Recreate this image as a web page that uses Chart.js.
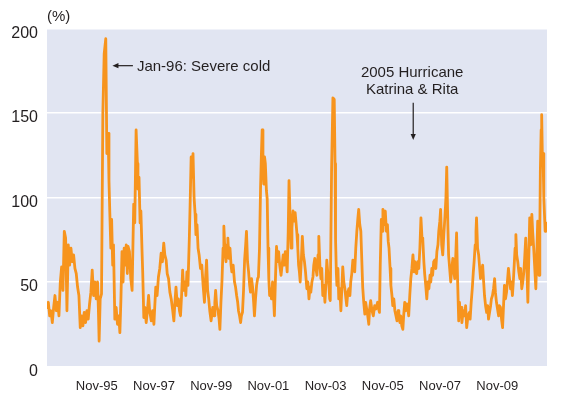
<!DOCTYPE html>
<html>
<head>
<meta charset="utf-8">
<script src="https://cdn.jsdelivr.net/npm/chart.js@4"></script>
<style>
  html, body { margin: 0; padding: 0; background: #fff; }
</style>
</head>
<body>
<canvas id="vol-chart" width="570" height="394"></canvas>
<script>
// x = months counted from Mar-94, y = volatility in %
const months = [
  0, 0.5, 1, 1.5, 2, 2.5, 3, 3.5, 4, 4.5,
  5, 5.5, 6, 6.5, 7, 7.5, 8, 8.5, 9, 9.5,
  10, 10.5, 11, 11.5, 12, 12.5, 13, 13.5, 14, 14.5,
  15, 15.5, 16, 16.5, 17, 17.5, 18, 18.5, 19, 19.3,
  19.6, 20, 20.5, 21, 21.5, 22.1, 22.5, 23, 23.3, 23.6,
  24, 24.3, 24.7, 25, 25.5, 26, 26.5, 27, 27.4, 27.8,
  28.2, 28.6, 29, 29.3, 29.8, 30.2, 30.5,

  31, 31.5, 32, 32.6, 33, 33.5, 34, 34.2, 34.6, 35,
  35.3, 35.7, 36, 36.4, 36.8, 37.3, 37.7, 38.2, 38.6, 39.2,
  39.7, 40.2, 40.5, 40.9, 41.4, 41.9, 42.4, 42.9, 43.4, 43.9,
  44.3, 44.8, 45.2, 45.7, 46.2, 46.7, 47.2, 47.7, 48.1, 48.5,
  49, 49.4, 49.8, 50.2, 50.6, 51, 51.4, 51.9, 52.2, 52.6,
  53, 53.5, 53.8, 54.2, 54.6, 54.9, 55.3, 55.7, 56, 56.4,
  56.8, 57.2, 57.7, 58.2, 58.7, 59.2, 59.6, 60, 60.4, 60.8,
  61.2, 61.7,

  62.3, 62.8, 63.1, 63.4, 63.8, 64.3, 64.7, 65, 65.4, 65.8,
  66.2, 66.5, 66.9, 67.3, 67.7, 68, 68.4, 68.8, 69.2, 69.5,
  70, 70.5, 70.9, 71.3, 71.7, 72, 72.4, 72.8, 73.1, 73.5,
  73.9, 74.3, 74.7, 75, 75.4, 75.8, 76.2, 76.5, 76.9, 77.3,
  77.7, 78, 78.4, 78.8, 79.2, 79.5, 79.9, 80.3, 80.6, 80.9,
  81.2, 81.5, 81.8, 82.1, 82.5, 82.8, 83.1, 83.4, 83.7, 84,
  84.4, 84.8, 85.2, 85.5, 85.9, 86.3, 86.7, 87.1, 87.5, 88,
  88.4, 88.8, 89.2, 89.6, 90, 90.3, 90.7, 91, 91.4, 91.8,
  92.1, 92.5, 93,

  93.3, 93.7, 94, 94.3, 94.6, 94.9, 95.2, 95.6, 96, 96.4,
  96.8, 97.2, 97.7, 98.1, 98.5, 98.9, 99.2, 99.6, 100, 100.3,
  100.7, 101.1, 101.5, 101.9, 102.2, 102.6, 103, 103.3, 103.7, 104.1,
  104.5, 104.9, 105.2, 105.6, 106, 106.3, 106.5, 107, 107.5, 108,
  108.3, 108.5, 108.8, 109, 109.4, 109.7, 110.1, 110.5, 110.9, 111.2,
  111.6, 112, 112.4, 112.7, 113.1, 113.5, 113.9, 114.2, 114.6, 115,
  115.3, 115.7, 116.1, 116.5, 116.9, 117.2, 117.6, 118, 118.3, 118.7,
  119.1, 119.5, 119.8, 120.2, 120.6, 121, 121.3, 121.7, 122.2, 122.7,
  123.2, 123.7,

  124.3, 124.7, 125, 125.3, 125.7, 126, 126.3, 126.7, 127.2, 127.6,
  128, 128.3, 128.6, 129, 129.3, 129.7, 130, 130.4, 130.8, 131.2,
  131.6, 132, 132.3, 132.7, 133, 133.4, 133.8, 134.1, 134.5, 134.9,
  135.3, 135.7, 136, 136.4, 136.8, 137.2, 137.6, 138, 138.3, 138.7,
  139, 139.4, 139.8, 140.2, 140.6, 141, 141.3, 141.7, 142, 142.4,
  142.8, 143.2, 143.6, 144, 144.3, 144.7, 145, 145.4, 145.8, 146.2,
  146.6, 147, 147.3, 147.7, 148, 148.4, 148.8, 149.2, 149.6, 150,
  150.3, 150.7, 151, 151.4, 151.8, 152.2, 152.6, 153, 153.3, 153.7,
  154, 154.4, 154.8, 155.1,

  155.4, 155.7, 156, 156.5, 157, 157.4, 157.8, 158.3, 158.8, 159.1,
  159.5, 159.9, 160.3, 160.6, 161, 161.3, 161.5, 161.9, 162.3, 162.7,
  163, 163.4, 163.8, 164.1, 164.5, 164.9, 165.3, 165.7, 166, 166.4,
  166.8, 167.1, 167.5, 167.9, 168.3, 168.6, 169, 169.4, 169.8, 170.1,
  170.5, 170.9, 171.3, 171.6, 172, 172.4, 172.8, 173.1, 173.5, 173.9,
  174.3, 174.6, 175, 175.4, 175.8, 176, 176.3, 176.6, 177, 177.4,
  177.8, 178.1, 178.5, 178.9, 179.3, 179.6, 180, 180.4, 180.8, 181.1,
  181.5, 181.9, 182.3, 182.6, 183, 183.4, 183.8, 184.1, 184.5, 184.8,
  185, 185.3, 185.5, 185.8, 186, 186.3, 186.5, 186.8, 187, 187.3,
  187.6, 188
];
const vol = [
  34, 38, 30, 33, 26, 35, 42, 33, 38, 30,
  50, 59, 45, 80, 76, 33, 72, 60, 70, 62,
  66, 58, 55, 47, 42, 23, 30, 24, 32, 26,
  33, 28, 37, 44, 57, 42, 50, 40, 50, 35,
  15, 40, 43, 150, 185, 194, 126, 138, 110, 92,
  70, 87, 60, 72, 28, 35, 25, 30, 20, 40,
  68, 50, 70, 60, 72, 55, 71,

  68, 52, 45, 96, 85, 140, 120, 105, 112, 85,
  92, 70, 55, 29, 35, 26, 32, 42, 33, 27,
  33, 25, 35, 47, 42, 53, 58, 67, 62, 73,
  66, 63, 55, 52, 44, 40, 34, 27, 38, 47,
  36, 40, 33, 30, 42, 57, 45, 50, 42, 56,
  48, 75, 95, 124, 112, 126, 100, 90, 78, 84,
  70, 66, 58, 60, 48, 38, 52, 63, 45, 40,
  33, 27,

  35, 30, 38, 45, 36, 33, 28, 22, 38, 51,
  70, 83, 68, 62, 72, 76, 64, 70, 60, 56,
  60, 50, 47, 42, 38, 33, 30, 26, 30, 32,
  45, 63, 72, 80, 62, 56, 48, 44, 52, 47,
  38, 30, 40, 48, 52, 53, 70, 106, 125, 140,
  118, 108, 124, 120, 104, 99, 70, 52, 42, 46,
  40, 50, 40, 30, 52, 71, 62, 68, 60, 54,
  60, 66, 60, 68, 62, 56, 80, 110, 88, 70,
  82, 92, 86,

  91, 84, 78, 70, 60, 56, 50, 62, 77, 66,
  62, 56, 46, 50, 40, 47, 44, 50, 53, 60,
  64, 58, 54, 66, 77, 60, 52, 58, 42, 48,
  38, 50, 63, 55, 48, 40, 39, 116, 159, 158,
  120, 75, 55, 48, 58, 40, 46, 33, 48, 59,
  50, 46, 40, 36, 44, 46, 42, 50, 55, 63,
  57, 56, 70, 80, 88, 93, 84, 80, 66, 47,
  38, 31, 38, 34, 30, 25, 34, 39, 33, 30,
  36, 34,

  38, 34, 32, 60, 87, 80, 93, 84, 92, 80,
  84, 74, 70, 58, 48, 42, 36, 40, 33, 30,
  27, 33, 30, 26, 30, 24, 22, 30, 38, 33,
  37, 34, 30, 42, 52, 58, 66, 56, 62, 56,
  55, 62, 58, 70, 88, 76, 75, 62, 55, 48,
  40, 50, 46, 54, 50, 58, 54, 62, 63, 58,
  68, 72, 80, 86, 93, 72, 66, 78, 88, 100,
  118, 85, 66, 58, 50, 58, 64, 56, 52, 66,
  79, 50, 27, 38,

  30, 35, 26, 33, 30, 36, 23, 30, 32, 28,
  38, 46, 56, 62, 72, 80, 88, 70, 66, 58,
  52, 56, 60, 52, 42, 36, 32, 36, 28, 32,
  36, 40, 42, 46, 52, 44, 38, 34, 30, 36,
  35, 28, 23, 34, 48, 40, 44, 50, 58, 52,
  46, 50, 42, 52, 64, 70, 78, 66, 62, 56,
  52, 58, 46, 50, 56, 64, 76, 60, 38, 60,
  88, 72, 90, 80, 70, 58, 46, 62, 86, 70,
  54, 80, 116, 140, 149, 120, 126, 100, 92, 80,
  85, 83
];
const yTicks = [0, 50, 100, 150, 200];
const xTickLabels = ['Nov-95', 'Nov-97', 'Nov-99', 'Nov-01', 'Nov-03', 'Nov-05', 'Nov-07', 'Nov-09'];

const fontFamily = '"Liberation Sans", Arial, sans-serif';
const textColor = '#231f20';
const orange = '#f7941d';
const plotBg = '#e1e5f2';

function drawArrow(ctx, x0, y0, x1, y1) {
  const ang = Math.atan2(y1 - y0, x1 - x0);
  const len = 6, half = 2.6;
  ctx.beginPath();
  ctx.moveTo(x0, y0);
  ctx.lineTo(x1 - Math.cos(ang) * 3, y1 - Math.sin(ang) * 3);
  ctx.lineWidth = 1.2;
  ctx.stroke();
  ctx.beginPath();
  ctx.moveTo(x1, y1);
  ctx.lineTo(x1 - Math.cos(ang) * len - Math.sin(ang) * half, y1 - Math.sin(ang) * len + Math.cos(ang) * half);
  ctx.lineTo(x1 - Math.cos(ang) * len + Math.sin(ang) * half, y1 - Math.sin(ang) * len - Math.cos(ang) * half);
  ctx.closePath();
  ctx.fill();
}

const notesPlugin = {
  id: 'notes',
  beforeDraw(chart) {
    const { ctx, chartArea: a } = chart;
    ctx.save();
    ctx.fillStyle = plotBg;
    ctx.fillRect(a.left, a.top, a.right - a.left, a.bottom - a.top);
    ctx.restore();
  },
  afterDraw(chart) {
    const { ctx, chartArea: a, scales: { x, y } } = chart;
    ctx.save();
    ctx.fillStyle = textColor;
    ctx.strokeStyle = textColor;
    ctx.font = '15px ' + fontFamily;
    ctx.textBaseline = 'middle';
    ctx.textAlign = 'left';
    ctx.fillText('(%)', a.left, 17);

    // Jan-96 note
    const yj = y.getPixelForValue(178);
    drawArrow(ctx, x.getPixelForValue(32.3), yj, x.getPixelForValue(24.6), yj);
    ctx.fillText('Jan-96: Severe cold', x.getPixelForValue(33.8), yj + 1);

    // Hurricane note
    ctx.textAlign = 'center';
    const xh = x.getPixelForValue(137.3);
    ctx.fillText('2005 Hurricane', xh, y.getPixelForValue(174));
    ctx.fillText('Katrina & Rita', xh, y.getPixelForValue(163.5));
    const xa = x.getPixelForValue(137.7);
    drawArrow(ctx, xa, y.getPixelForValue(156), xa, y.getPixelForValue(134));
    ctx.restore();
  }
};

const points = months.map((m, i) => ({ x: m, y: vol[i] }));

new Chart(document.getElementById('vol-chart'), {
  type: 'line',
  data: {
    datasets: [{
      label: 'Volatility',
      data: points,
      xAxisID: 'x',
      yAxisID: 'y',
      borderColor: orange,
      borderWidth: 2.8,
      borderJoinStyle: 'round',
      pointRadius: 0,
      tension: 0
    }]
  },
  options: {
    responsive: false,
    animation: false,
    layout: { padding: { top: 28.5, right: 23, left: 0, bottom: 0 } },
    plugins: {
      legend: { display: false },
      tooltip: { enabled: false }
    },
    scales: {
      x: {
        type: 'linear',
        min: 0,
        max: 188,
        display: false
      },
      xl: {
        type: 'linear',
        position: 'bottom',
        min: -0.87,
        max: 7.87,
        afterBuildTicks: scale => { scale.ticks = xTickLabels.map((_, i) => ({ value: i })); },
        afterFit: scale => { scale.height = 27.5; },
        grid: { display: false, drawTicks: false },
        border: { display: false },
        ticks: {
          autoSkip: false,
          maxRotation: 0,
          padding: 12,
          color: textColor,
          font: { family: fontFamily, size: 13 },
          callback: v => xTickLabels[v]
        }
      },
      y: {
        min: 0,
        max: 200,
        afterBuildTicks: scale => { scale.ticks = yTicks.map(v => ({ value: v })); },
        afterFit: scale => { scale.width = 47; },
        grid: { color: '#ffffff', lineWidth: 1.5, drawTicks: false },
        border: { display: false },
        ticks: {
          padding: 9,
          labelOffset: 5,
          color: textColor,
          font: { family: fontFamily, size: 16 }
        }
      }
    }
  },
  plugins: [notesPlugin]
});
</script>
</body>
</html>
